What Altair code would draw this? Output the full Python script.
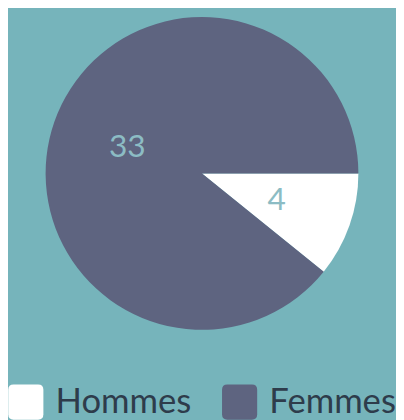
import math
import altair as alt
import pandas as pd

categories = ["Hommes", "Femmes"]
values = [4, 33]
colors = ["#ffffff", "#5e6480"]

df = pd.DataFrame({"sexe": categories, "n": values})

rounded_square = (
    "M-0.7,-1H0.7Q1,-1 1,-0.7V0.7Q1,1 0.7,1H-0.7Q-1,1 -1,0.7V-0.7Q-1,-1 -0.7,-1Z"
)

base = alt.Chart(df).encode(
    theta=alt.Theta(
        "n:Q",
        stack=True,
        scale=alt.Scale(range=[math.pi / 2, math.pi / 2 + 2 * math.pi]),
    ),
    order=alt.Order("sexe:N", sort="descending"),
)

pie = base.mark_arc(outerRadius=158).encode(
    color=alt.Color(
        "sexe:N",
        scale=alt.Scale(domain=categories, range=colors),
        legend=alt.Legend(
            title=None,
            orient="none",
            legendX=0,
            legendY=378,
            direction="horizontal",
            labelFont="Lato",
            labelFontSize=35,
            labelColor="#2e3c4b",
            symbolType=rounded_square,
            symbolSize=1260,
            symbolStrokeWidth=0,
            symbolOpacity=1,
            labelOffset=12,
            columnPadding=30,
        ),
    )
)

text = base.mark_text(
    radius=80, fontSize=32, font="Lato", color="#8cbcc4", baseline="middle"
).encode(text="n:Q")

chart = (
    (pie + text)
    .properties(width=392, height=330, background="#76b4bb", padding=0)
    .configure_view(strokeWidth=0)
)

chart.save("out.html", embed_options={"renderer": "svg", "actions": False})
